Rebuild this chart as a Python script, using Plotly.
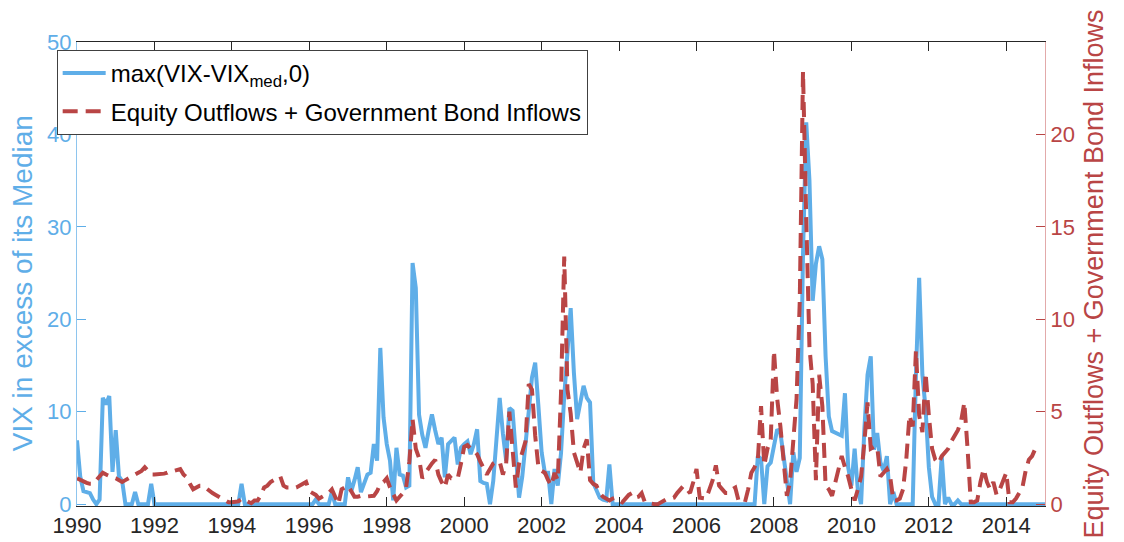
import plotly.graph_objects as go

# ---------------- data (monthly, first value = Dec 1989) ----------------
start_year = 1989
start_month = 12  # December 1989

vix_excess = [
    6.9,
    # 1990
    3.0, 1.4, 1.3, 1.2, 0.5, 0.0, 0.5, 11.5, 10.8, 11.7, 3.5, 8.0,
    # 1991
    3.0, 2.5, 0.0, 0.0, 0.0, 1.3, 0.0, 0.0, 0.0, 0.0, 2.2, 0.0,
    # 1992
    0, 0, 0, 0, 0, 0, 0, 0, 0, 0, 0, 0,
    # 1993
    0, 0, 0, 0, 0, 0, 0, 0, 0, 0, 0, 0,
    # 1994
    0, 0, 2.2, 0, 0, 0, 0, 0, 0, 0, 0, 0,
    # 1995
    0, 0, 0, 0, 0, 0, 0, 0, 0, 0, 0, 0,
    # 1996
    0, 0.5, 0, 0, 0, 0, 1.3, 0, 0, 0, 0, 2.9,
    # 1997
    1.4, 2.6, 4.0, 1.3, 2.2, 3.2, 3.4, 6.5, 4.7, 16.9, 9.4, 6.5,
    # 1998
    4.7, 0.4, 6.1, 3.2, 3.1, 1.8, 2.0, 26.1, 23.4, 9.7, 7.5, 6.1,
    # 1999
    8.0, 9.7, 8.0, 6.5, 7.2, 2.9, 6.5, 6.8, 7.2, 4.3, 6.1, 6.5,
    # 2000
    6.8, 5.4, 6.5, 8.1, 2.5, 2.3, 2.2, 0.0, 2.5, 7.0, 11.5, 7.6,
    # 2001
    4.7, 10.4, 10.1, 5.4, 0.7, 3.0, 6.1, 10.0, 13.7, 15.3, 10.6, 5.6,
    # 2002
    3.4, 3.4, 0.0, 3.8, 2.0, 5.5, 11.7, 17.0, 21.2, 14.2, 9.2, 11.0,
    # 2003
    12.8, 11.5, 11.0, 2.3, 1.5, 0.7, 0.5, 0.4, 4.3, 0.0, 0.0, 0.0,
    # 2004
    0, 0, 0, 0, 0, 0, 0, 0, 0, 0, 0, 0,
    # 2005
    0, 0, 0, 0, 0, 0, 0, 0, 0, 0, 0, 0,
    # 2006
    0, 0, 0, 0, 0, 0, 0, 0, 0, 0, 0, 0,
    # 2007
    0, 0, 0, 0, 0, 0, 5.2, 4.9, 0.0, 4.1, 4.5, 6.5,
    # 2008
    8.1, 7.7, 5.0, 3.0, 0.0, 5.6, 3.5, 5.0, 27.0, 41.3, 35.0, 22.0,
    # 2009
    26.0, 27.9, 26.5, 16.0, 9.5, 7.9, 7.7, 7.5, 7.4, 12.0, 4.0, 2.0,
    # 2010
    6.0, 1.5, 0.0, 8.0, 14.0, 16.0, 5.9, 7.7, 4.5, 3.6, 5.2, 0.0,
    # 2011
    1.3, 0.0, 0.0, 0.0, 0.0, 0.0, 0.0, 14.0, 24.5, 14.0, 10.3, 4.0,
    # 2012
    0.8, 0.0, 0.0, 5.2, 0.0, 0.7, 0.0, 0.0, 0.4, 0.0, 0.0, 0.0,
    # 2013
    0, 0, 0, 0, 0, 0, 0, 0, 0, 0, 0, 0,
    # 2014
    0, 0, 0, 0, 0, 0, 0, 0, 0, 0, 0, 0,
]

flows = [
    1.4,
    # 1990
    1.3, 1.2, 1.15, 1.1, 1.1, 1.3, 1.5, 1.7, 1.6, 1.5, 1.45, 1.4,
    # 1991
    1.3, 1.2, 1.3, 1.4, 1.5, 1.6, 1.7, 1.8, 2.0, 1.8, 1.6, 1.6,
    # 1992
    1.6, 1.6, 1.65, 1.7, 1.8, 1.8, 1.85, 1.9, 1.6, 1.45, 1.1, 0.8,
    # 1993
    0.9, 1.0, 1.0, 0.85, 0.7, 0.6, 0.5, 0.4, 0.3, 0.2, 0.1, 0.1,
    # 1994
    0.1, 0.15, 0.3, 0.2, 0.1, 0.05, 0.2, 0.2, 0.5, 0.9, 1.0, 1.2,
    # 1995
    1.3, 1.4, 1.5, 1.0, 0.9, 0.9, 0.85, 0.9, 1.0, 1.1, 1.2, 0.7,
    # 1996
    0.6, 0.5, 0.3, 0.4, 0.5, 0.6, 0.8, 0.4, 0.0, 0.8, 0.9, 1.0,
    # 1997
    0.7, 0.4, 0.4, 0.45, 0.4, 0.4, 0.4, 0.45, 0.7, 1.1, 1.2, 1.4,
    # 1998
    0.9, 0.5, 0.2, 0.4, 0.6, 0.9, 2.3, 4.6, 3.0, 2.5, 1.4, 1.7,
    # 1999
    2.0, 2.2, 2.4, 1.6, 1.2, 0.9, 1.6, 1.4, 1.4, 1.4, 2.2, 3.1,
    # 2000
    3.2, 3.0, 2.9, 2.7, 2.3, 2.0, 1.6, 1.9, 2.2, 2.3, 2.3, 1.6,
    # 2001
    2.2, 5.0, 3.1, 0.9, 2.2, 2.8, 3.4, 6.5, 6.2, 3.7, 2.0, 1.8,
    # 2002
    1.7, 1.3, 1.0, 1.7, 1.3, 6.0, 13.4, 6.2, 4.9, 2.8, 2.2, 1.7,
    # 2003
    3.0, 3.5, 1.3, 1.1, 1.0, 0.6, 0.4, 0.3, 0.2, 0.3, 0.35, 0.2,
    # 2004
    0.1, 0.3, 0.5, 0.6, 0.35, 0.4, 0.6, 0.1, 0.05, 0.0, 0.0, 0.0,
    # 2005
    0.1, 0.2, 0.3, 0.3, 0.35, 0.6, 0.8, 1.0, 0.8, 0.6, 1.2, 1.9,
    # 2006
    0.35, 0.3, 0.3, 0.8, 1.3, 2.1, 1.0, 0.8, 0.6, 0.6, 0.8, 0.9,
    # 2007
    0.2, 0.1, 0.1, 0.8, 1.7, 2.0, 2.4, 5.3, 2.1, 3.0, 3.5, 8.3,
    # 2008
    5.7, 4.2, 2.0, 0.45, 1.2, 3.5, 5.7, 11.0, 23.4, 15.5, 8.5, 6.5,
    # 2009
    1.3, 7.0, 5.3, 1.0, 0.8, 0.45, 1.2, 2.0, 2.6, 2.0, 1.5, 0.8,
    # 2010
    0.2, 0.8, 1.5, 3.3, 5.5, 3.0, 3.1, 3.1, 1.5, 1.7, 1.9, 1.5,
    # 2011
    0.2, 0.2, 0.3, 0.8, 2.4, 4.8, 4.2, 8.3, 4.8, 3.9, 7.1, 4.8,
    # 2012
    3.0, 2.4, 2.2, 2.6, 2.8, 3.0, 3.4, 3.7, 4.0, 4.5, 5.5, 3.0,
    # 2013
    0.1, 0.1, 0.2, 1.2, 1.9, 1.2, 0.8, 1.2, 0.5, 0.8, 1.2, 1.7,
    # 2014 (to September)
    0.1, 0.1, 0.3, 0.6, 0.9, 1.8, 2.4, 2.6, 3.0,
]

x_ticks = list(range(1990, 2015, 2))
left_ticks = [0, 10, 20, 30, 40, 50]
right_ticks = [0, 5, 10, 15, 20]

vix_name = "max(VIX-VIX<sub>med</sub>,0)"
flows_name = "Equity Outflows + Government Bond Inflows"
left_title = "VIX in excess of its Median"
right_title = "Equity Outflows + Government Bond Inflows"

# month-end positions in fractional years
def month_positions(n):
    return [start_year + (start_month + i) / 12.0 for i in range(n)]

x_vix = month_positions(len(vix_excess))
x_flows = month_positions(len(flows))

BLUE = "#5FAEE8"
RED = "#B94545"
FONT = "Liberation Sans, Arial, Helvetica, sans-serif"

fig = go.Figure()
fig.add_trace(go.Scatter(
    x=x_vix, y=vix_excess, mode="lines", name=vix_name,
    line=dict(color=BLUE, width=4), yaxis="y", legendgroup="a",
))
fig.add_trace(go.Scatter(
    x=x_flows, y=flows, mode="lines", name=flows_name,
    line=dict(color=RED, width=4, dash="15px,8px"), yaxis="y2", legendgroup="b",
))

fig.update_layout(
    width=1124, height=542,
    margin=dict(l=77, r=79, t=42, b=36, autoexpand=False),
    paper_bgcolor="white", plot_bgcolor="white",
    font=dict(family=FONT, size=22, color="#262626"),
    showlegend=True,
    legend=dict(
        x=-0.021, y=0.983, xanchor="left", yanchor="top",
        bgcolor="white", bordercolor="#404040", borderwidth=1,
        font=dict(family=FONT, size=24, color="#000000"),
        tracegroupgap=4, itemwidth=43,
    ),
    xaxis=dict(
        range=[1990, 2015], tickvals=x_ticks, ticktext=[str(t) for t in x_ticks],
        ticks="inside", ticklen=9, tickwidth=1, tickcolor="#262626",
        showline=True, linecolor="#262626", linewidth=1, mirror="ticks",
        showgrid=False, zeroline=False, automargin=False,
        tickfont=dict(family=FONT, size=22, color="#262626"),
    ),
    yaxis=dict(
        range=[-0.2, 50], tickvals=left_ticks,
        ticks="inside", ticklen=9, tickwidth=1, tickcolor=BLUE,
        showline=True, linecolor="#8EC5EE", linewidth=1,
        showgrid=False, zeroline=False, automargin=False,
        tickfont=dict(family=FONT, size=22, color=BLUE),
    ),
    yaxis2=dict(
        range=[-0.1, 25], tickvals=right_ticks, overlaying="y", side="right",
        ticks="inside", ticklen=9, tickwidth=1, tickcolor=RED,
        showline=True, linecolor="#E2AAAA", linewidth=1,
        showgrid=False, zeroline=False, automargin=False,
        tickfont=dict(family=FONT, size=22, color=RED),
        title=dict(text=right_title, font=dict(family=FONT, size=27, color=RED), standoff=10),
    ),
    annotations=[
        dict(
            text=left_title, textangle=-90, showarrow=False,
            xref="paper", yref="paper", x=-0.0568, y=0.48,
            xanchor="center", yanchor="middle",
            font=dict(family=FONT, size=28, color=BLUE),
        )
    ],
)

fig.write_html("out.html")
